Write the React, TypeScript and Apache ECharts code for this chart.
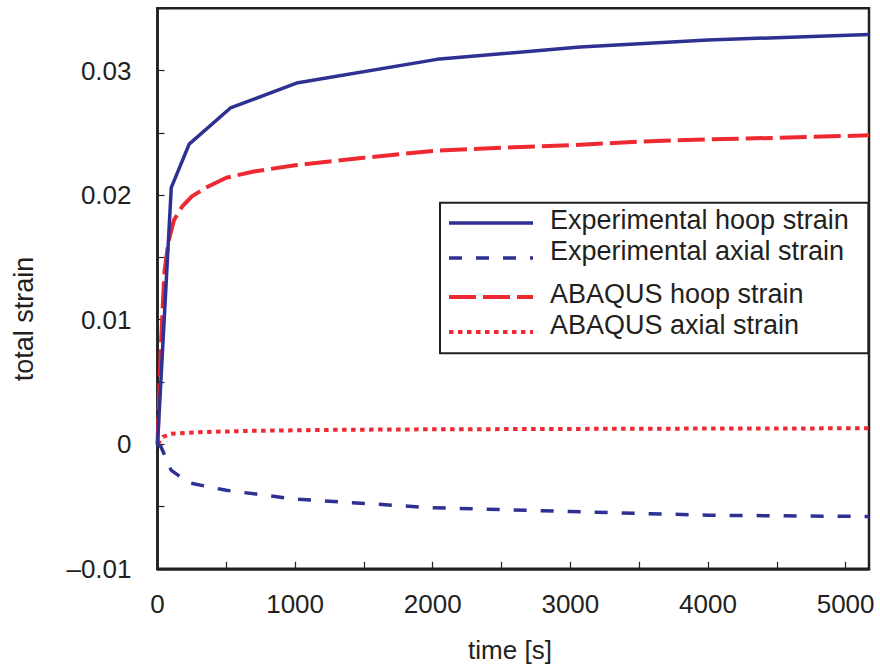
import React, { useEffect, useRef } from "react";
import * as echarts from "echarts";

// ---- data ----
const seriesNames = [
  "Experimental hoop strain",
  "Experimental axial strain",
  "ABAQUS hoop strain",
  "ABAQUS axial strain",
];

const expHoopT = [0, 100, 230, 530, 1010, 2030, 3070, 4000, 5170];
const expHoopV = [0, 0.0206, 0.0241, 0.027, 0.029, 0.0309, 0.0319, 0.03245, 0.0329];

const expAxialT = [0, 25, 100, 230, 500, 1000, 2000, 3000, 4000, 5170];
const expAxialV = [0, -0.0002, -0.0021, -0.0031, -0.0037, -0.0044, -0.0051, -0.0054, -0.0057, -0.0058];

const abqHoopT = [0, 25, 50, 80, 120, 180, 250, 350, 500, 700, 1000, 1500, 2000, 2500, 3000, 3500, 4000, 4500, 5170];
const abqHoopV = [0, 0.008, 0.0138, 0.0163, 0.018, 0.0191, 0.0199, 0.0206, 0.0214, 0.0219, 0.0224, 0.023, 0.02355, 0.0238, 0.024, 0.0243, 0.02448, 0.0246, 0.0248];

const abqAxialT = [0, 40, 100, 300, 700, 1300, 2000, 3000, 4000, 5170];
const abqAxialV = [0, 0.0006, 0.00085, 0.00097, 0.00108, 0.00116, 0.0012, 0.00123, 0.00126, 0.00128];

const xMin = 0;
const xMax = 5170;
const xInterval = 500;
const yMin = -0.01;
const yMax = 0.035;
const yInterval = 0.005;

const xTitle = "time [s]";
const yTitle = "total strain";

// ---- styles ----
const INK = "#231F20";
const BLUE = "#2E3192";
const RED = "#ED2A32";
const FONT = '"Liberation Sans", Arial, Helvetica, sans-serif';

const lineStyles = [
  { color: BLUE, width: 3.5, type: "solid" as any },
  { color: BLUE, width: 3.5, type: [13, 14] as any },
  { color: RED, width: 4, type: [27, 7] as any },
  { color: RED, width: 4, type: [4.5, 4.5] as any },
];

const zip = (t: number[], v: number[]) => t.map((x, i) => [x, v[i]]);

export default function App() {
  const ref = useRef<HTMLDivElement>(null);
  useEffect(() => {
    if (!ref.current) return;
    const chart = echarts.init(ref.current, undefined, { renderer: "svg" });
    const datasets = [
      zip(expHoopT, expHoopV),
      zip(expAxialT, expAxialV),
      zip(abqHoopT, abqHoopV),
      zip(abqAxialT, abqAxialV),
    ];

    const legendX = 440;
    const legendY = 202.7;
    const legendW = 428.3;
    const legendH = 150.6;
    const lineRows = [223, 258, 297, 332];
    const textRows = [220, 251, 294, 325];

    const legendGraphics: any[] = [
      {
        type: "rect",
        shape: { x: legendX, y: legendY, width: legendW, height: legendH },
        style: { fill: "#ffffff", stroke: INK, lineWidth: 2 },
        z: 10,
      },
    ];
    seriesNames.forEach((name, i) => {
      const ls = lineStyles[i];
      legendGraphics.push({
        type: "line",
        shape: { x1: 449, y1: lineRows[i], x2: 533, y2: lineRows[i] },
        style: {
          stroke: ls.color,
          lineWidth: ls.width,
          lineDash: Array.isArray(ls.type) ? ls.type : null,
        },
        z: 11,
      });
      legendGraphics.push({
        type: "text",
        style: {
          text: name,
          x: 550,
          y: textRows[i],
          font: `27px ${FONT}`,
          fill: INK,
          verticalAlign: "middle",
          align: "left",
        },
        z: 11,
      });
    });

    chart.setOption({
      animation: false,
      backgroundColor: "#ffffff",
      grid: {
        left: 157.5,
        right: 11,
        top: 8.3,
        bottom: 100.2,
        show: true,
        borderColor: INK,
        borderWidth: 2.5,
        backgroundColor: "transparent",
      },
      xAxis: {
        type: "value",
        min: xMin,
        max: xMax,
        interval: xInterval,
        axisLine: { show: true, onZero: false, lineStyle: { color: INK, width: 2.5 } },
        axisTick: { show: true, inside: true, length: 7, lineStyle: { color: INK, width: 1.2 } },
        splitLine: { show: false },
        axisLabel: {
          margin: 22,
          color: INK,
          fontSize: 26,
          fontFamily: FONT,
          showMaxLabel: false,
          formatter: (v: number) => (Math.round(v) % 1000 === 0 ? String(Math.round(v)) : ""),
        },
      },
      yAxis: {
        type: "value",
        min: yMin,
        max: yMax,
        interval: yInterval,
        axisLine: { show: true, onZero: false, lineStyle: { color: INK, width: 2.5 } },
        axisTick: { show: true, inside: true, length: 7, lineStyle: { color: INK, width: 1.2 } },
        splitLine: { show: false },
        axisLabel: {
          margin: 26,
          color: INK,
          fontSize: 26,
          fontFamily: FONT,
          formatter: (v: number) => {
            const k = Math.round(v * 1000);
            if (k % 10 !== 0) return "";
            if (k === 0) return "0";
            return (k < 0 ? "\u2013" : "") + (Math.abs(k) / 1000).toFixed(2);
          },
        },
      },
      series: datasets.map((d, i) => ({
        name: seriesNames[i],
        type: "line",
        data: d,
        symbol: "none",
        smooth: false,
        clip: true,
        lineStyle: {
          color: lineStyles[i].color,
          width: lineStyles[i].width,
          type: lineStyles[i].type,
          cap: "butt",
        },
        z: 3 - i,
      })),
      graphic: [
        ...legendGraphics,
        {
          type: "text",
          x: 24,
          y: 319,
          rotation: Math.PI / 2,
          style: {
            text: yTitle,
            x: 0,
            y: 0,
            font: `27px ${FONT}`,
            fill: INK,
            align: "center",
            verticalAlign: "middle",
          },
        },
        {
          type: "text",
          style: {
            text: xTitle,
            x: 510,
            y: 650,
            font: `26px ${FONT}`,
            fill: INK,
            align: "center",
            verticalAlign: "middle",
          },
        },
      ],
    });
    return () => chart.dispose();
  }, []);
  return (
    <div
      ref={ref}
      style={{ position: "fixed", left: 0, top: 0, width: 880, height: 669 }}
    />
  );
}
